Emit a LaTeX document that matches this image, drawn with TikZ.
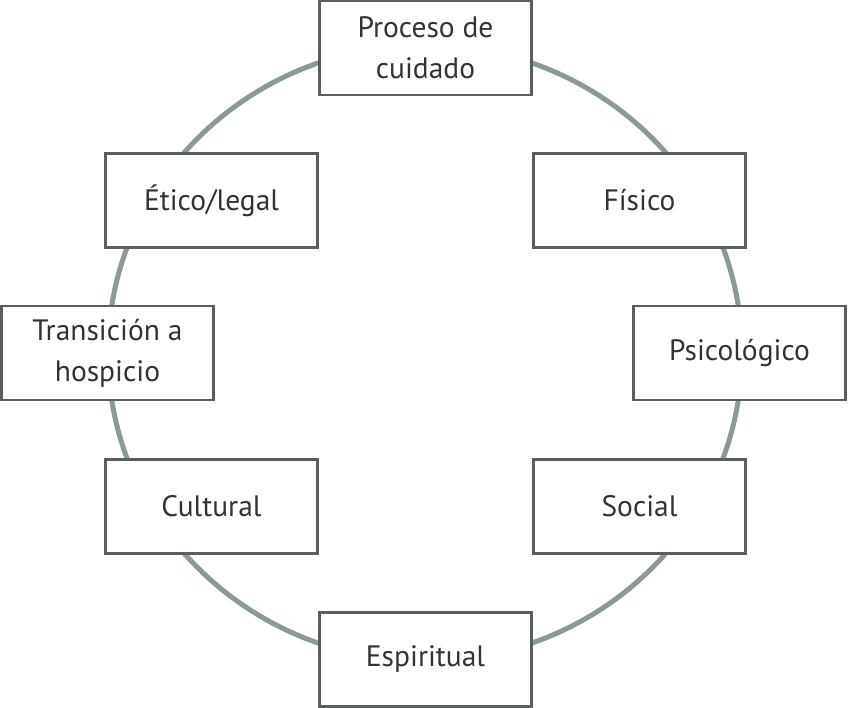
\documentclass[tikz,border=0pt]{standalone}
\usepackage{fontspec}
\setmainfont{PT Sans}
\definecolor{ringcol}{HTML}{8A9A96}
\definecolor{boxcol}{HTML}{5A5F5E}
\definecolor{txtcol}{HTML}{333333}
\begin{document}
\begin{tikzpicture}[x=1pt,y=1pt,
  topicbox/.style={draw=boxcol, line width=2.4pt, fill=white, minimum width=212pt, minimum height=94pt,
    align=center, text=txtcol, font=\fontsize{29.5}{41}\selectfont, inner sep=0pt}]
\useasboundingbox (0,0) rectangle (848,707);
\draw[ringcol, line width=5pt] (425,354) ellipse [x radius=317, y radius=308];
\node[topicbox] (proc) at (425.5,659) {Proceso de\\cuidado};
\node[topicbox] (etico) at (211.5,506.5) {Ético/legal};
\node[topicbox] (fis) at (639.5,506.5) {Físico};
\node[topicbox] (trans) at (107.5,354) {Transición a\\hospicio};
\node[topicbox] (psi) at (739.5,354) {Psicológico};
\node[topicbox] (cult) at (211.5,200.5) {Cultural};
\node[topicbox] (soc) at (639.5,200.5) {Social};
\node[topicbox] (esp) at (425.5,47.5) {Espiritual};
\end{tikzpicture}
\end{document}
